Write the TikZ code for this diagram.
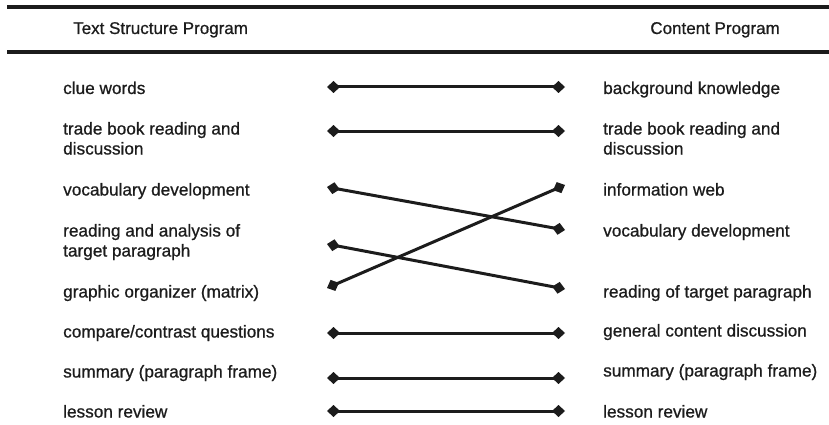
\documentclass[tikz,border=0pt]{standalone}
\usepackage{fontspec}
\setmainfont{Liberation Sans}
\newfontfamily\lblfont{Liberation Sans}[FakeBold=0.8]
\usetikzlibrary{arrows.meta}
\definecolor{ink}{HTML}{1C1C1C}
\begin{document}
\begin{tikzpicture}[x=1pt,y=-1pt,
  lbl/.style={anchor=base west,inner sep=0pt,text=ink,font=\lblfont\fontsize{17.2}{20}\selectfont,align=left},
  hdr/.style={inner sep=0pt,text=ink,font=\lblfont\fontsize{17}{20}\selectfont},
  rulebar/.style={line width=4pt,draw=ink},
  link/.style={line width=3pt,draw=ink,{Diamond[length=13pt,width=12pt]}-{Diamond[length=13pt,width=12pt]}}]
\useasboundingbox (0,0) rectangle (829,425);
% rules
\coordinate (r1a) at (7,7); \coordinate (r1b) at (829,7);
\coordinate (r2a) at (7,52); \coordinate (r2b) at (829,52);
\draw[rulebar] (r1a) -- (r1b);
\draw[rulebar] (r2a) -- (r2b);
% headers
\node[hdr,anchor=base west] (hL) at (73,34) {Text Structure Program};
\node[hdr,anchor=base east] (hR) at (780,34) {Content Program};
% left column (base = last line)
\node[lbl] (a1) at (63,94) {clue words};
\node[lbl] (a2) at (63,154.5) {trade book reading and\\discussion};
\node[lbl] (a3) at (63,195.5) {vocabulary development};
\node[lbl] (a4) at (63,256.5) {reading and analysis of\\target paragraph};
\node[lbl] (a5) at (63,297.5) {graphic organizer (matrix)};
\node[lbl] (a6) at (63,337.5) {compare/contrast questions};
\node[lbl] (a7) at (63,377.5) {summary (paragraph frame)};
\node[lbl] (a8) at (63,417.5) {lesson review};
% right column
\node[lbl] (b1) at (603,94) {background knowledge};
\node[lbl] (b2) at (603,154.5) {trade book reading and\\discussion};
\node[lbl] (b3) at (603,195.5) {information web};
\node[lbl] (b4) at (603,236.5) {vocabulary development};
\node[lbl] (b5) at (603,297.5) {reading of target paragraph};
\node[lbl] (b6) at (603,336.5) {general content discussion};
\node[lbl] (b7) at (603,376.5) {summary (paragraph frame)};
\node[lbl] (b8) at (603,417.5) {lesson review};
% connector ends
\coordinate (L1) at (327,87);  \coordinate (R1) at (565,87);
\coordinate (L2) at (327,131); \coordinate (R2) at (565,131);
\coordinate (L3) at (327,187); \coordinate (R3) at (565,185);
\coordinate (R4) at (565,230);
\coordinate (L4) at (327,244);
\coordinate (L5) at (327,288); \coordinate (R5) at (565,289);
\coordinate (L6) at (327,333); \coordinate (R6) at (565,333);
\coordinate (L7) at (327,378); \coordinate (R7) at (565,378);
\coordinate (L8) at (327,411); \coordinate (R8) at (565,411);
\draw[link] (L1) -- (R1);
\draw[link] (L2) -- (R2);
\draw[link] (L3) -- (R4);
\draw[link] (L4) -- (R5);
\draw[link] (L5) -- (R3);
\draw[link] (L6) -- (R6);
\draw[link] (L7) -- (R7);
\draw[link] (L8) -- (R8);
\end{tikzpicture}
\end{document}
